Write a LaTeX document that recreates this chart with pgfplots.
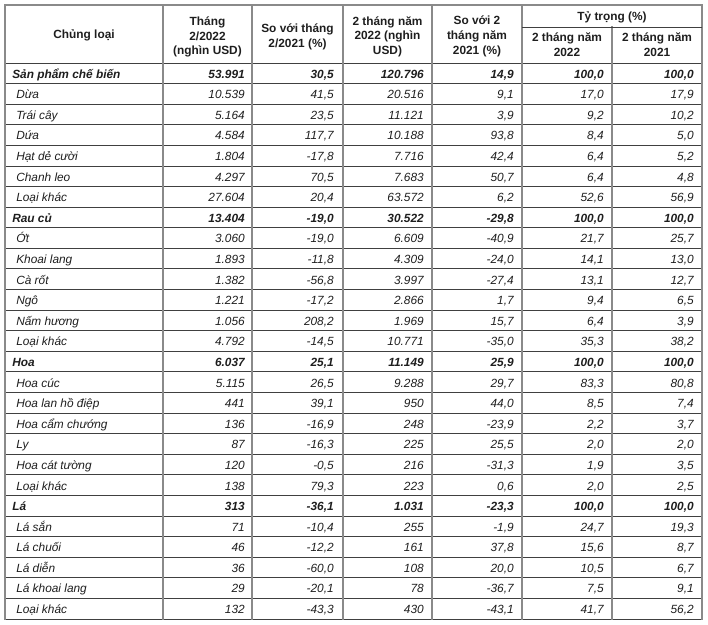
\documentclass[border=0pt]{standalone}
\usepackage{pgfplots}
\usepackage{pgfplotstable}
\pgfplotsset{compat=1.18}
\usepackage{fontspec}
\setmainfont{Liberation Sans}
\definecolor{txt}{HTML}{1E1E1E}
\definecolor{vline}{HTML}{8A8A8A}
\definecolor{hline}{HTML}{404040}
\newcommand{\tf}{\fontsize{8.9}{10}\selectfont}

% Group rows (bold italic)
\pgfplotstableread[col sep=semicolon,row sep=\\]{
y;name;a;b;c;d;e;f\\
73.1;Sản phẩm chế biến;53.991;30,5;120.796;14,9;100,0;100,0\\
217.2;Rau củ;13.404;-19,0;30.522;-29,8;100,0;100,0\\
361.4;Hoa;6.037;25,1;11.149;25,9;100,0;100,0\\
505.5;Lá;313;-36,1;1.031;-23,3;100,0;100,0\\
}\groups

% Item rows (italic)
\pgfplotstableread[col sep=semicolon,row sep=\\]{
y;name;a;b;c;d;e;f\\
93.7;Dừa;10.539;41,5;20.516;9,1;17,0;17,9\\
114.3;Trái cây;5.164;23,5;11.121;3,9;9,2;10,2\\
134.9;Dứa;4.584;117,7;10.188;93,8;8,4;5,0\\
155.5;Hạt dẻ cười;1.804;-17,8;7.716;42,4;6,4;5,2\\
176.1;Chanh leo;4.297;70,5;7.683;50,7;6,4;4,8\\
196.7;Loại khác;27.604;20,4;63.572;6,2;52,6;56,9\\
237.8;Ớt;3.060;-19,0;6.609;-40,9;21,7;25,7\\
258.4;Khoai lang;1.893;-11,8;4.309;-24,0;14,1;13,0\\
279.0;Cà rốt;1.382;-56,8;3.997;-27,4;13,1;12,7\\
299.6;Ngô;1.221;-17,2;2.866;1,7;9,4;6,5\\
320.2;Nấm hương;1.056;208,2;1.969;15,7;6,4;3,9\\
340.8;Loại khác;4.792;-14,5;10.771;-35,0;35,3;38,2\\
382.0;Hoa cúc;5.115;26,5;9.288;29,7;83,3;80,8\\
402.6;Hoa lan hồ điệp;441;39,1;950;44,0;8,5;7,4\\
423.2;Hoa cẩm chướng;136;-16,9;248;-23,9;2,2;3,7\\
443.8;Ly;87;-16,3;225;25,5;2,0;2,0\\
464.4;Hoa cát tường;120;-0,5;216;-31,3;1,9;3,5\\
485.0;Loại khác;138;79,3;223;0,6;2,0;2,5\\
526.1;Lá sắn;71;-10,4;255;-1,9;24,7;19,3\\
546.7;Lá chuối;46;-12,2;161;37,8;15,6;8,7\\
567.3;Lá diễn;36;-60,0;108;20,0;10,5;6,7\\
587.9;Lá khoai lang;29;-20,1;78;-36,7;7,5;9,1\\
608.5;Loại khác;132;-43,3;430;-43,1;41,7;56,2\\
}\items

% Header lines (bold upright, centred)
\pgfplotstableread[col sep=semicolon,row sep=\\]{
x;y;t\\
79;33.5;Chủng loại\\
202.5;20.5;Tháng\\
202.5;35;2/2022\\
202.5;49.5;(nghìn USD)\\
292.5;27.5;So với tháng\\
292.5;42.5;2/2021 (\%)\\
382.5;20;2 tháng năm\\
382.5;34.5;2022 (nghìn\\
382.5;49.3;USD)\\
472;19.5;So với 2\\
472;34.5;tháng năm\\
472;49.5;2021 (\%)\\
607;15.7;Tỷ trọng (\%)\\
562;36.7;2 tháng năm\\
562;51.7;2022\\
652;36.7;2 tháng năm\\
652;51.7;2021\\
}\heads

% Table rules
\pgfplotstableread[col sep=semicolon,row sep=\\]{
x;y\\
697;58.00\\
697;78.59\\
697;99.19\\
697;119.78\\
697;140.37\\
697;160.97\\
697;181.56\\
697;202.15\\
697;222.74\\
697;243.34\\
697;263.93\\
697;284.52\\
697;305.12\\
697;325.71\\
697;346.30\\
697;366.90\\
697;387.49\\
697;408.08\\
697;428.67\\
697;449.27\\
697;469.86\\
697;490.45\\
697;511.05\\
697;531.64\\
697;552.23\\
697;572.83\\
697;593.42\\
697;614.01\\
}\hrules
\pgfplotstableread[col sep=semicolon,row sep=\\]{
x;y\\
0;614.01\\
158;614.01\\
247;614.01\\
338;614.01\\
427;614.01\\
517;614.01\\
697;614.01\\
}\vrules

\begin{document}
\begin{tikzpicture}
\begin{axis}[
  scale only axis, width=531pt, height=468.75pt,
  xmin=-5, xmax=703, ymin=-5, ymax=620, y dir=reverse,
  axis lines=box, axis line style={draw=none}, ticks=none, clip=false,
  every axis plot/.append style={line cap=rect},
  txtbase/.style={only marks, mark=none, nodes near coords,
     point meta=explicit symbolic},
]
% rules
\addplot[xcomb, draw=hline, line width=0.7pt, mark=none] table[x=x,y=y] {\hrules};
\addplot[ycomb, draw=vline, line width=1.2pt, mark=none] table[x=x,y=y] {\vrules};
\addplot[draw=vline, line width=1.2pt, mark=none] coordinates {(607,22) (607,614.01)};
\addplot[draw=hline, line width=0.7pt, mark=none] coordinates {(517,22) (697,22)};
\addplot[draw=vline, line width=1.2pt, mark=none] coordinates {(0,0) (697,0)};

% header
\addplot[txtbase, every node near coord/.append style={anchor=base, inner sep=0pt, text=txt, font=\tf\bfseries}]
  table[x=x, y=y, meta=t] {\heads};

% groups
\addplot[txtbase, every node near coord/.append style={anchor=base west, inner sep=0pt, text=txt, font=\tf\bfseries\itshape}]
  table[x expr=7, y=y, meta=name] {\groups};
\addplot[txtbase, every node near coord/.append style={anchor=base east, inner sep=0pt, text=txt, font=\tf\bfseries\itshape}]
  table[x expr=240, y=y, meta=a] {\groups};
\addplot[txtbase, every node near coord/.append style={anchor=base east, inner sep=0pt, text=txt, font=\tf\bfseries\itshape}]
  table[x expr=329, y=y, meta=b] {\groups};
\addplot[txtbase, every node near coord/.append style={anchor=base east, inner sep=0pt, text=txt, font=\tf\bfseries\itshape}]
  table[x expr=419, y=y, meta=c] {\groups};
\addplot[txtbase, every node near coord/.append style={anchor=base east, inner sep=0pt, text=txt, font=\tf\bfseries\itshape}]
  table[x expr=509, y=y, meta=d] {\groups};
\addplot[txtbase, every node near coord/.append style={anchor=base east, inner sep=0pt, text=txt, font=\tf\bfseries\itshape}]
  table[x expr=599, y=y, meta=e] {\groups};
\addplot[txtbase, every node near coord/.append style={anchor=base east, inner sep=0pt, text=txt, font=\tf\bfseries\itshape}]
  table[x expr=689, y=y, meta=f] {\groups};

% items
\addplot[txtbase, every node near coord/.append style={anchor=base west, inner sep=0pt, text=txt, font=\tf\itshape}]
  table[x expr=11, y=y, meta=name] {\items};
\addplot[txtbase, every node near coord/.append style={anchor=base east, inner sep=0pt, text=txt, font=\tf\itshape}]
  table[x expr=240, y=y, meta=a] {\items};
\addplot[txtbase, every node near coord/.append style={anchor=base east, inner sep=0pt, text=txt, font=\tf\itshape}]
  table[x expr=329, y=y, meta=b] {\items};
\addplot[txtbase, every node near coord/.append style={anchor=base east, inner sep=0pt, text=txt, font=\tf\itshape}]
  table[x expr=419, y=y, meta=c] {\items};
\addplot[txtbase, every node near coord/.append style={anchor=base east, inner sep=0pt, text=txt, font=\tf\itshape}]
  table[x expr=509, y=y, meta=d] {\items};
\addplot[txtbase, every node near coord/.append style={anchor=base east, inner sep=0pt, text=txt, font=\tf\itshape}]
  table[x expr=599, y=y, meta=e] {\items};
\addplot[txtbase, every node near coord/.append style={anchor=base east, inner sep=0pt, text=txt, font=\tf\itshape}]
  table[x expr=689, y=y, meta=f] {\items};
\end{axis}
\end{tikzpicture}
\end{document}
